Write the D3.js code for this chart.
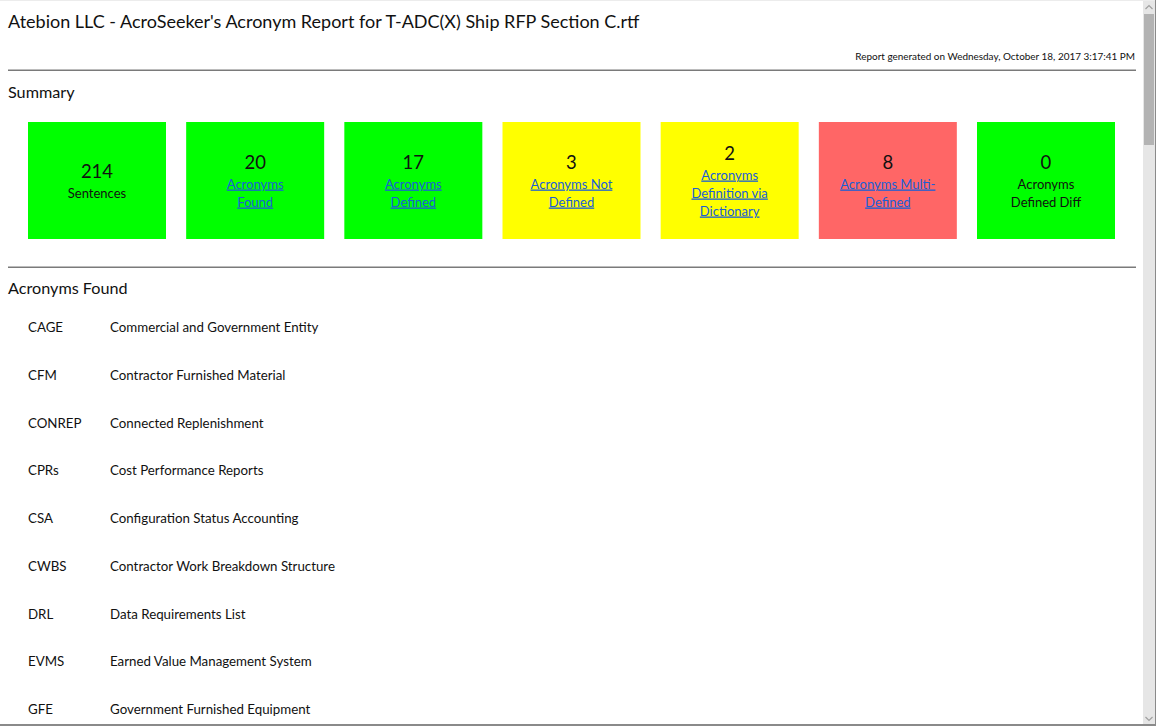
<!DOCTYPE html>
<html>
<head>
<meta charset="utf-8">
<script src="https://cdn.jsdelivr.net/npm/d3@7"></script>
<style>
  html, body { margin: 0; padding: 0; background: #fff; overflow: hidden; }
  svg { display: block; font-family: Lato, "Noto Sans", sans-serif; }
</style>
</head>
<body>
<svg id="page" width="1156" height="726"></svg>
<script>
// ---- data ----
const reportTitle = "Atebion LLC - AcroSeeker's Acronym Report for T-ADC(X) Ship RFP Section C.rtf";
const generatedText = "Report generated on Wednesday, October 18, 2017 3:17:41 PM";
const summaryKeys = ["sentences", "found", "defined", "notDefined", "dictionary", "multi", "diff"];
const summaryValues = [214, 20, 17, 3, 2, 8, 0];
const summaryLabels = [
  ["Sentences"],
  ["Acronyms", "Found"],
  ["Acronyms", "Defined"],
  ["Acronyms Not", "Defined"],
  ["Acronyms", "Definition via", "Dictionary"],
  ["Acronyms Multi-", "Defined"],
  ["Acronyms", "Defined Diff"]
];
const summaryIsLink = [false, true, true, true, true, true, false];
const summaryStatus = ["ok", "ok", "ok", "warn", "warn", "bad", "ok"];
const acronyms = ["CAGE", "CFM", "CONREP", "CPRs", "CSA", "CWBS", "DRL", "EVMS", "GFE"];
const definitions = [
  "Commercial and Government Entity",
  "Contractor Furnished Material",
  "Connected Replenishment",
  "Cost Performance Reports",
  "Configuration Status Accounting",
  "Contractor Work Breakdown Structure",
  "Data Requirements List",
  "Earned Value Management System",
  "Government Furnished Equipment"
];

// ---- drawing ----
const W = 1156, H = 726;
const svg = d3.select("#page");
const statusColor = d3.scaleOrdinal().domain(["ok", "warn", "bad"]).range(["#00ff00", "#ffff00", "#ff6666"]);

// window frame top line
svg.append("rect").attr("x", 0).attr("y", 0).attr("width", W).attr("height", 1).attr("fill", "#ececec");

// title
svg.append("text").attr("x", 8).attr("y", 28)
  .attr("font-size", 18).attr("fill", "#111").text(reportTitle);

svg.append("text").attr("x", 1135).attr("y", 60).attr("text-anchor", "end")
  .attr("font-size", 9.95).attr("fill", "#111").text(generatedText);

// rules
[70, 267].forEach(y => {
  svg.append("rect").attr("x", 8).attr("y", y - 0.5).attr("width", 1128).attr("height", 1.5).attr("fill", "#7a7a7a");
});

// section headings
svg.append("text").attr("x", 8).attr("y", 98).attr("font-size", 16.2).attr("fill", "#111").text("Summary");
svg.append("text").attr("x", 8).attr("y", 294).attr("font-size", 16.2).attr("fill", "#111").text("Acronyms Found");

// summary tiles
const xBand = d3.scaleBand().domain(summaryKeys).range([28, 1115]).paddingInner(0.1275).paddingOuter(0);
const tileTop = 122, tileH = 117;
const tiles = svg.append("g").selectAll("g").data(summaryKeys).join("g")
  .attr("transform", k => `translate(${xBand(k)},${tileTop})`);
tiles.append("rect")
  .attr("width", xBand.bandwidth()).attr("height", tileH)
  .attr("fill", (k, i) => statusColor(summaryStatus[i]));
tiles.each(function (k, i) {
  const g = d3.select(this);
  const cx = xBand.bandwidth() / 2;
  const n = summaryLabels[i].length;
  const blockH = 22 + 18 * n;
  const top = tileH / 2 - blockH / 2;
  const numY = top + 17.5;
  g.append("text").attr("x", cx).attr("y", numY).attr("text-anchor", "middle")
    .attr("font-size", 18.5).attr("fill", "#111").text(summaryValues[i]);
  summaryLabels[i].forEach((line, j) => {
    g.append("text").attr("x", cx).attr("y", numY + 19.5 + 18 * j).attr("text-anchor", "middle")
      .attr("font-size", 13).attr("fill", summaryIsLink[i] ? "#1a5fd6" : "#111")
      .style("text-decoration", summaryIsLink[i] ? "underline" : "none")
      .text(line);
  });
});

// acronym list
const yRow = d3.scalePoint().domain(acronyms).range([332, 714]);
const rows = svg.append("g").selectAll("g").data(acronyms).join("g")
  .attr("transform", a => `translate(0,${yRow(a)})`);
rows.append("text").attr("x", 28).attr("font-size", 13.3).attr("fill", "#111").text(a => a);
rows.append("text").attr("x", 110).attr("font-size", 13.3).attr("fill", "#111").text((a, i) => definitions[i]);

// scrollbar
svg.append("rect").attr("x", 1143).attr("y", 1).attr("width", 12).attr("height", H - 2).attr("fill", "#e6e6e6");
svg.append("rect").attr("x", 1144).attr("y", 14).attr("width", 10).attr("height", 131).attr("fill", "#b3b3b3");
svg.append("path").attr("d", "M1145.5,9 L1149,5.5 L1152.5,9").attr("fill", "none").attr("stroke", "#a0a0a0").attr("stroke-width", 1.2);
svg.append("path").attr("d", "M1145.5,717 L1149,720.5 L1152.5,717").attr("fill", "none").attr("stroke", "#a0a0a0").attr("stroke-width", 1.2);
// frame right and bottom
svg.append("rect").attr("x", W - 1).attr("y", 0).attr("width", 1).attr("height", H).attr("fill", "#8a8a8a");
svg.append("rect").attr("x", 0).attr("y", H - 2).attr("width", W).attr("height", 2).attr("fill", "#8a8a8a");
</script>
</body>
</html>
